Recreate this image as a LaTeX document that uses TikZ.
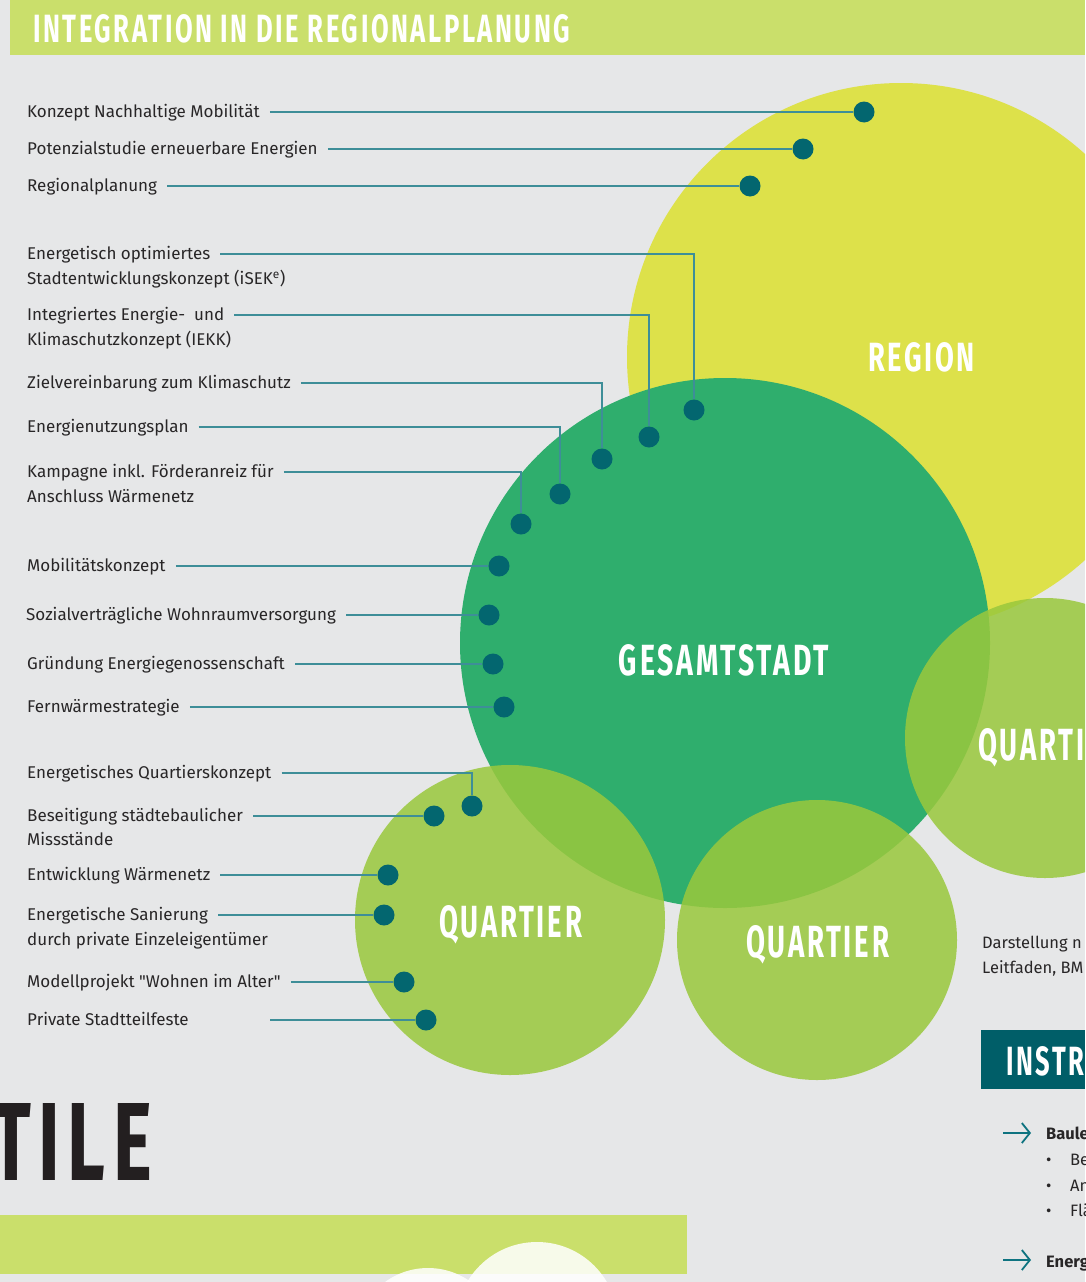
\documentclass[tikz,border=0pt]{standalone}
\usepackage{fontspec}
\usetikzlibrary{arrows.meta}
\newfontfamily\labelfont{Fira Sans}[Ligatures=TeXOff]
\newfontfamily\headfont{Fira Sans}[Ligatures=TeXOff, LetterSpace=10]

\definecolor{pagegray}{RGB}{230,231,232}
\definecolor{bannergreen}{RGB}{202,223,107}
\definecolor{regionyellow}{RGB}{221,225,74}
\definecolor{stadtgreen}{RGB}{47,174,109}
\definecolor{quartiergreen}{RGB}{154,200,61}
\definecolor{dotteal}{RGB}{3,102,111}
\definecolor{lineteal}{RGB}{62,142,152}
\definecolor{boxteal}{RGB}{0,94,104}
\definecolor{arrowteal}{RGB}{14,115,128}
\definecolor{tileblack}{RGB}{35,31,32}
\definecolor{labeltext}{RGB}{40,38,39}

\newcommand{\headtext}[3]{\resizebox{#1pt}{#2pt}{\headfont\bfseries #3}}

\begin{document}
\begin{tikzpicture}[x=1pt, y=-1pt,
    lbl/.style={anchor=west, inner sep=0pt, text height=11pt, text depth=-3pt, text=labeltext, font=\labelfont\fontsize{17}{20}\selectfont},
    note/.style={inner sep=0pt, anchor=base west, text=labeltext, font=\labelfont\fontsize{16.5}{20}\selectfont},
    head/.style={anchor=base, inner sep=0pt, text=white},
    dot/.style={circle, fill=dotteal, inner sep=0pt, minimum size=21pt},
    leader/.style={draw=lineteal, line width=1.6pt, shorten <=10pt},
    arrowline/.style={draw=arrowteal, line width=1.8pt, -{Straight Barb[length=8pt,width=20pt]}}]
    \useasboundingbox (0,0) rectangle (1085,1282);
    \clip (0,0) rectangle (1085,1282);
    \fill [pagegray] (0,0) rectangle (1085,1282);
    \fill [bannergreen] (10,0) rectangle (1085,55);
    \fill [bannergreen] (0,1215) rectangle (687,1274);

    \fill [regionyellow] (901,357) circle (274pt);
    \fill [stadtgreen] (725,643) circle (265pt);
    \fill [quartiergreen, fill opacity=0.86] (510,920) circle (155pt);
    \fill [quartiergreen, fill opacity=0.86] (817,940) circle (140pt);
    \fill [quartiergreen, fill opacity=0.86] (1045,738) circle (140pt);
    \fill [white, fill opacity=0.86] (428,1341) circle (73pt);
    \fill [white, fill opacity=0.86] (537,1323) circle (81pt);

    \node [head, anchor=base west] (title) at (33,42) {\headtext{537}{28}{INTEGRATION IN DIE REGIONALPLANUNG}};
    \node [head] (region) at (921.5,371) {\headtext{107}{29}{REGION}};
    \node [head] (stadt) at (724,675) {\headtext{210}{31}{GESAMTSTADT}};
    \node [head] (quartierA) at (510.5,937) {\headtext{143}{32}{QUARTIER}};
    \node [head] (quartierB) at (817.5,957) {\headtext{143}{32}{QUARTIER}};
    \node [head, anchor=base west] (quartierC) at (978,760) {\headtext{143}{32}{QUARTIER}};
    \node [head, anchor=base east, text=tileblack] (tile) at (152,1180) {\headtext{160}{77}{TILE}};

    \fill [boxteal] (981,1030) rectangle (1085,1089);
    \node [head, anchor=base west] (instr) at (1006,1075) {\headtext{78}{29}{INSTR}};

    \node [note] (quelleA) at (982,948) {Darstellung n};
    \node [note] (quelleB) at (982,973) {Leitfaden, BM};
    \coordinate (pfeilA) at (1003,1133);
    \coordinate (pfeilAend) at (1031,1133);
    \coordinate (pfeilB) at (1003,1260);
    \coordinate (pfeilBend) at (1031,1260);
    \draw [arrowline] (pfeilA) -- (pfeilAend);
    \draw [arrowline] (pfeilB) -- (pfeilBend);
    \node [note, font=\labelfont\bfseries\fontsize{16.5}{20}\selectfont] (baule) at (1046,1139) {Baule};
    \node [note] (bulletA) at (1046,1165) {•};
    \node [note] (bulletB) at (1046,1191) {•};
    \node [note] (bulletC) at (1046,1216) {•};
    \node [note] (punktA) at (1070,1165) {Be};
    \node [note] (punktB) at (1070,1191) {An};
    \node [note] (punktC) at (1070,1216) {Flä};
    \node [note, font=\labelfont\bfseries\fontsize{16.5}{20}\selectfont] (energ) at (1046,1267) {Energ};

    \node [lbl] (k1) at (27,112) {Konzept Nachhaltige Mobilität};
    \node [lbl] (k2) at (27,149) {Potenzialstudie erneuerbare Energien};
    \node [lbl] (k3) at (27,186) {Regionalplanung};
    \node [lbl] (k4) at (27,254) {Energetisch optimiertes};
    \node [lbl] (k4b) at (27,279) {Stadtentwicklungskonzept (iSEK\textsuperscript{e})};
    \node [lbl] (k5) at (27,315) {Integriertes Energie-\ \ und};
    \node [lbl] (k5b) at (27,340) {Klimaschutzkonzept (IEKK)};
    \node [lbl] (k6) at (27,383) {Zielvereinbarung zum Klimaschutz};
    \node [lbl] (k7) at (27,427) {Energienutzungsplan};
    \node [lbl] (k8) at (27,472) {Kampagne inkl. Förderanreiz für};
    \node [lbl] (k8b) at (27,497) {Anschluss Wärmenetz};
    \node [lbl] (k9) at (27,566) {Mobilitätskonzept};
    \node [lbl] (k10) at (26,615) {Sozialverträgliche Wohnraumversorgung};
    \node [lbl] (k11) at (27,664) {Gründung Energiegenossenschaft};
    \node [lbl] (k12) at (27,707) {Fernwärmestrategie};
    \node [lbl] (k13) at (27,773) {Energetisches Quartierskonzept};
    \node [lbl] (k14) at (27,816) {Beseitigung städtebaulicher};
    \node [lbl] (k14b) at (27,840) {Missstände};
    \node [lbl] (k15) at (27,875) {Entwicklung Wärmenetz};
    \node [lbl] (k16) at (27,915) {Energetische Sanierung};
    \node [lbl] (k16b) at (27,940) {durch private Einzeleigentümer};
    \node [lbl] (k17) at (27,982) {Modellprojekt "Wohnen im Alter"};
    \node [lbl] (k18) at (27,1020) {Private Stadtteilfeste};
    \coordinate (k18start) at (270,1020);

    \node [dot] (d1) at (864,112) {};
    \node [dot] (d2) at (803,149) {};
    \node [dot] (d3) at (750,186) {};
    \node [dot] (d4) at (694,410) {};
    \node [dot] (d5) at (649,437) {};
    \node [dot] (d6) at (602,459) {};
    \node [dot] (d7) at (560,494) {};
    \node [dot] (d8) at (521,524) {};
    \node [dot] (d9) at (499,566) {};
    \node [dot] (d10) at (489,615) {};
    \node [dot] (d11) at (493,664) {};
    \node [dot] (d12) at (504,707) {};
    \node [dot] (d13) at (472,806) {};
    \node [dot] (d14) at (434,816) {};
    \node [dot] (d15) at (388,875) {};
    \node [dot] (d16) at (384,915) {};
    \node [dot] (d17) at (404,982) {};
    \node [dot] (d18) at (426,1020) {};

    \draw [leader] (k1.east) -- (d1);
    \draw [leader] (k2.east) -- (d2);
    \draw [leader] (k3.east) -- (d3);
    \draw [leader] (k4.east) -| (d4);
    \draw [leader] (k5.east) -| (d5);
    \draw [leader] (k6.east) -| (d6);
    \draw [leader] (k7.east) -| (d7);
    \draw [leader] (k8.east) -| (d8);
    \draw [leader] (k9.east) -- (d9);
    \draw [leader] (k10.east) -- (d10);
    \draw [leader] (k11.east) -- (d11);
    \draw [leader] (k12.east) -- (d12);
    \draw [leader] (k13.east) -| (d13);
    \draw [leader] (k14.east) -- (d14);
    \draw [leader] (k15.east) -- (d15);
    \draw [leader] (k16.east) -- (d16);
    \draw [leader] (k17.east) -- (d17);
    \draw [leader, shorten <=0pt] (k18start) -- (d18);
\end{tikzpicture}
\end{document}
